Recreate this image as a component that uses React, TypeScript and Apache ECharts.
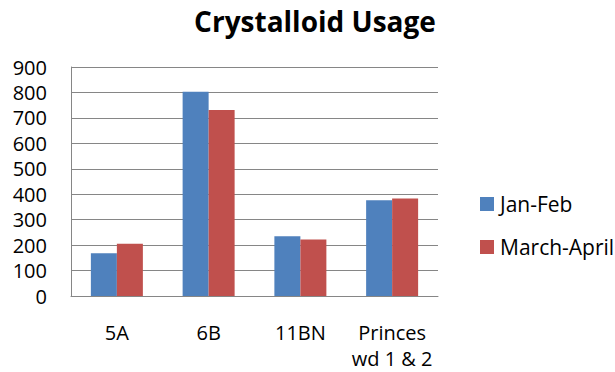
import React, { useEffect, useRef } from "react";
import * as echarts from "echarts";

const categories = ["5A", "6B", "11BN", "Princes\nwd 1 & 2"];
const janFeb = [168, 803, 235, 376];
const marchApril = [205, 731, 222, 383];
const yTicks = { min: 0, max: 900, interval: 100 };

const FONT = "'Open Sans', sans-serif";

export default function App() {
  const ref = useRef<HTMLDivElement>(null);

  useEffect(() => {
    document.body.style.margin = "0";
    const chart = echarts.init(ref.current!, null, { renderer: "svg" });
    chart.setOption({
      animation: false,
      backgroundColor: "#ffffff",
      title: {
        text: "Crystalloid Usage",
        left: 310,
        textAlign: "center",
        top: 2,
        textStyle: { fontFamily: FONT, fontSize: 28, fontWeight: "bold", color: "#000" },
      },
      legend: {
        orient: "vertical",
        left: 475,
        top: 188,
        itemWidth: 14,
        itemHeight: 14,
        itemGap: 21,
        icon: "rect",
        textStyle: { fontFamily: FONT, fontSize: 21, lineHeight: 22, color: "#000", padding: [0, 0, 0, 1] },
        data: ["Jan-Feb", "March-April"],
      },
      grid: { left: 71, right: 177, top: 67, bottom: 76, outerBoundsMode: "none", containLabel: false },
      xAxis: {
        type: "category",
        data: categories,
        axisLine: { lineStyle: { color: "#868686" } },
        axisTick: { show: false },
        axisLabel: {
          interval: 0,
          fontFamily: FONT,
          fontSize: 20,
          color: "#000",
          margin: 23,
          lineHeight: 26,
        },
      },
      yAxis: {
        type: "value",
        ...yTicks,
        axisLine: { show: true, lineStyle: { color: "#868686" } },
        axisTick: { show: false },
        splitLine: { lineStyle: { color: "#868686" } },
        axisLabel: { fontFamily: FONT, fontSize: 20, color: "#000", margin: 24 },
      },
      series: [
        {
          name: "Jan-Feb",
          type: "bar",
          data: janFeb,
          barWidth: 26,
          barGap: "0%",
          itemStyle: { color: "#4f81bd" },
        },
        {
          name: "March-April",
          type: "bar",
          data: marchApril,
          barWidth: 26,
          barGap: "0%",
          itemStyle: { color: "#c0504d" },
        },
      ],
    });
    return () => chart.dispose();
  }, []);

  return <div ref={ref} style={{ width: 615, height: 372, position: "absolute", left: 0, top: 0 }} />;
}
